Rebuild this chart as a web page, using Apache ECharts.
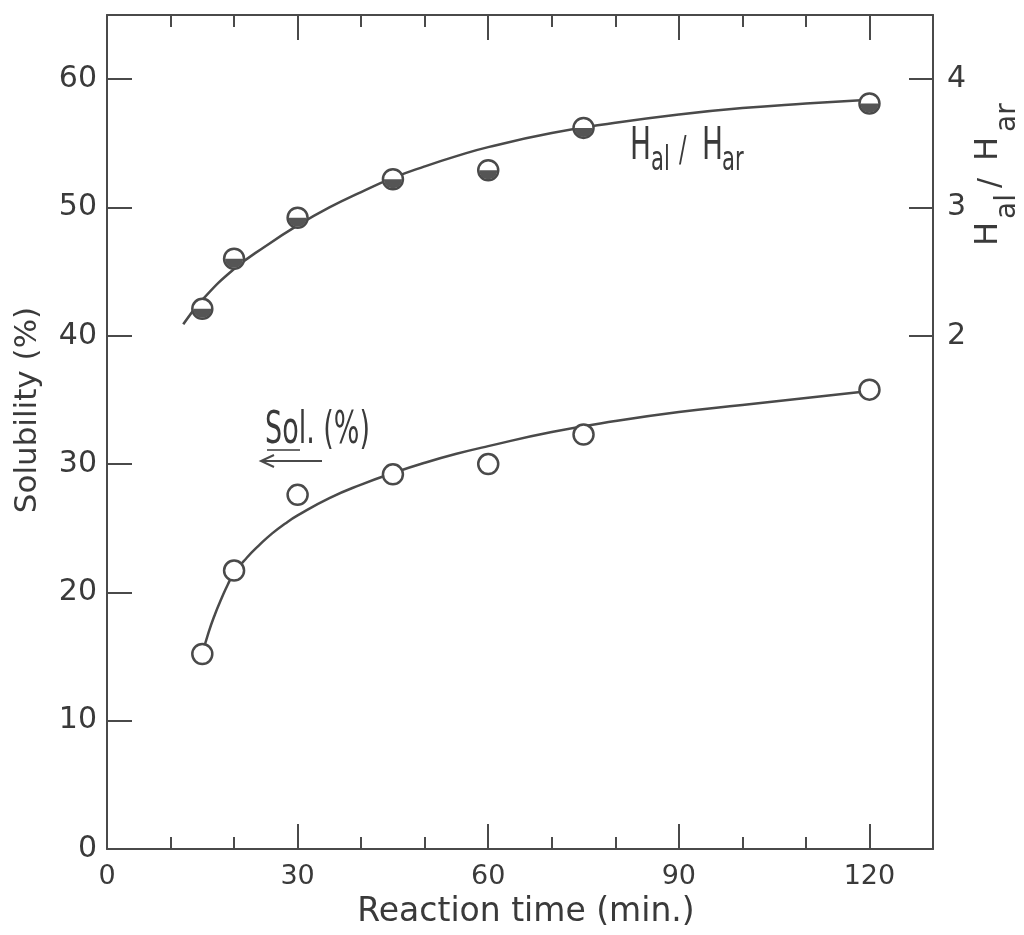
<!DOCTYPE html>
<html>
<head>
<meta charset="utf-8">
<title>Solubility and Hal/Har vs reaction time</title>
<script src="https://cdn.jsdelivr.net/npm/echarts@6/dist/echarts.min.js"></script>
<style>
  html, body { margin: 0; padding: 0; background: #fff; }
  #main { width: 1024px; height: 935px; }
</style>
</head>
<body>
<div id="main"></div>
<script>
// reaction time (min.) of the measured points
var times = [15, 20, 30, 45, 60, 75, 120];
// Sol. (%), left axis
var solubility = [15.2, 21.7, 27.6, 29.2, 30.0, 32.3, 35.8];
// Hal / Har, right axis
var hRatio = [2.21, 2.60, 2.92, 3.22, 3.29, 3.62, 3.81];

// hand drawn fitted curves
var solCurveX = [15, 16, 17, 18, 19, 20, 22, 24, 26, 28, 30, 35, 40, 45, 50, 55, 60, 70, 80, 90, 100, 110, 120];
var solCurveY = [15.2, 16.9, 18.3, 19.5, 20.6, 21.5, 22.7, 23.7, 24.6, 25.35, 26.0, 27.35, 28.4, 29.3, 30.1,
  30.8, 31.4, 32.5, 33.35, 34.05, 34.6, 35.15, 35.7];
var hCurveX = [12, 15, 20, 25, 30, 35, 40, 45, 50, 55, 60, 70, 80, 90, 100, 110, 120];
var hCurveY = [2.09, 2.28, 2.52, 2.70, 2.86, 3.00, 3.12, 3.23, 3.32, 3.40, 3.47, 3.58, 3.66, 3.725, 3.775,
  3.81, 3.84];

// ticks and labels
var xLabels = [0, 30, 60, 90, 120];
var xMinor = [10, 20, 40, 50, 70, 80, 100, 110];
var yLeftTicks = [0, 10, 20, 30, 40, 50, 60];
var yRightTicks = [2, 3, 4];

var FONT = 'DejaVu Sans';
var INK = '#3a3a3a';
var LINE = '#4a4a4a';

function pairs(xs, ys) {
  return xs.map(function (x, i) { return [x, ys[i]]; });
}

// text placed by its left end and baseline
function word(str, x, base, size, sx) {
  return {
    type: 'text', x: x, y: base - 0.35 * size, scaleX: sx || 1,
    style: {
      text: str, fontFamily: FONT, fontSize: size, fill: INK,
      textAlign: 'left', textVerticalAlign: 'middle', verticalAlign: 'middle'
    }
  };
}

function xAxisDef(pos, ticks, len, showLine, labels) {
  return {
    type: 'value', min: 0, max: 130, interval: 10, position: pos,
    axisLine: { show: showLine, onZero: false, lineStyle: { color: LINE, width: 2 } },
    axisTick: { show: true, inside: true, length: len, customValues: ticks,
      lineStyle: { color: LINE, width: 2 } },
    axisLabel: labels ? { show: true, customValues: labels, fontFamily: FONT,
      fontSize: 27, color: INK, margin: 14 } : { show: false },
    splitLine: { show: false }
  };
}

var myChart = echarts.init(document.getElementById('main'));
var option = {
  backgroundColor: '#fff',
  animation: false,
  grid: { left: 107, right: 91, top: 15, bottom: 86, outerBoundsMode: 'none' },
  xAxis: [
    xAxisDef('bottom', xMinor, 12, true, xLabels),
    xAxisDef('bottom', xLabels, 25, false, null),
    xAxisDef('top', xMinor, 12, true, null),
    xAxisDef('top', xLabels, 25, false, null)
  ],
  yAxis: [
    {
      type: 'value', min: 0, max: 65, interval: 10, position: 'left',
      axisLine: { show: true, onZero: false, lineStyle: { color: LINE, width: 2 } },
      axisTick: { show: true, inside: true, length: 25, customValues: yLeftTicks,
        lineStyle: { color: LINE, width: 2 } },
      axisLabel: { customValues: yLeftTicks, fontFamily: FONT, fontSize: 30, color: INK, margin: 10 },
      splitLine: { show: false }
    },
    {
      type: 'value', min: -2, max: 4.5, interval: 1, position: 'right',
      axisLine: { show: true, onZero: false, lineStyle: { color: LINE, width: 2 } },
      axisTick: { show: true, inside: true, length: 24, customValues: yRightTicks,
        lineStyle: { color: LINE, width: 2 } },
      axisLabel: { customValues: yRightTicks, fontFamily: FONT, fontSize: 30, color: INK, margin: 14 },
      splitLine: { show: false }
    }
  ],
  series: [
    {
      name: 'Sol. curve', type: 'line', yAxisIndex: 0, smooth: 0.5,
      showSymbol: false, lineStyle: { color: LINE, width: 2.5 },
      data: pairs(solCurveX, solCurveY), z: 2
    },
    {
      name: 'Hal/Har curve', type: 'line', yAxisIndex: 1, smooth: 0.5,
      showSymbol: false, lineStyle: { color: LINE, width: 2.5 },
      data: pairs(hCurveX, hCurveY), z: 2
    },
    {
      name: 'Sol. (%)', type: 'scatter', yAxisIndex: 0, symbol: 'circle', symbolSize: 20,
      itemStyle: { color: '#fff', borderColor: LINE, borderWidth: 2.5, opacity: 1 },
      data: pairs(times, solubility), z: 3
    },
    {
      name: 'Hal/Har', type: 'scatter', yAxisIndex: 1, symbol: 'circle', symbolSize: 20,
      itemStyle: { color: '#fff', borderColor: LINE, borderWidth: 2.5, opacity: 1 },
      data: pairs(times, hRatio), z: 3
    },
    {
      // lower half of the Hal/Har markers is filled
      name: 'Hal/Har fill', type: 'scatter', yAxisIndex: 1,
      symbol: 'path://M0,0 C0,13.33 20,13.33 20,0 Z', symbolSize: [18, 9], symbolOffset: [0, 4.5],
      itemStyle: { color: '#555', opacity: 1 },
      data: pairs(times, hRatio), z: 4
    }
  ],
  graphic: [
    {
      type: 'text', x: 526, y: 912,
      style: { text: 'Reaction time (min.)', fontFamily: FONT, fontSize: 33, fill: INK,
        textAlign: 'center', textVerticalAlign: 'middle', verticalAlign: 'middle' }
    },
    {
      type: 'text', x: 28, y: 410, rotation: Math.PI / 2,
      style: { text: 'Solubility (%)', fontFamily: FONT, fontSize: 31, fill: INK,
        textAlign: 'center', textVerticalAlign: 'middle', verticalAlign: 'middle' }
    },
    {
      type: 'group', x: 1000, y: 246, rotation: Math.PI / 2,
      children: [
        word('H', 0, 0, 32), word('al', 27, 18, 28), word('/', 58, 2, 30),
        word('H', 85, 0, 32), word('ar', 114, 18, 28)
      ]
    },
    // curve labels
    word('H', 630, 163, 45, 0.62),
    word('al', 651, 173, 34, 0.62),
    word('/', 679, 164, 36, 0.62),
    word('H', 702, 163, 45, 0.62),
    word('ar', 722, 173, 34, 0.62),
    word('Sol. (%)', 265, 447, 45, 0.6),
    {
      type: 'line', shape: { x1: 267, y1: 450, x2: 300, y2: 450 },
      style: { stroke: INK, lineWidth: 1.5 }
    },
    {
      type: 'polyline', shape: { points: [[322, 461], [261, 461]] },
      style: { stroke: LINE, lineWidth: 2, fill: null }
    },
    {
      type: 'polyline', shape: { points: [[274, 455], [261, 461], [274, 467]] },
      style: { stroke: LINE, lineWidth: 2, fill: null }
    }
  ]
};
myChart.setOption(option);
</script>
</body>
</html>
